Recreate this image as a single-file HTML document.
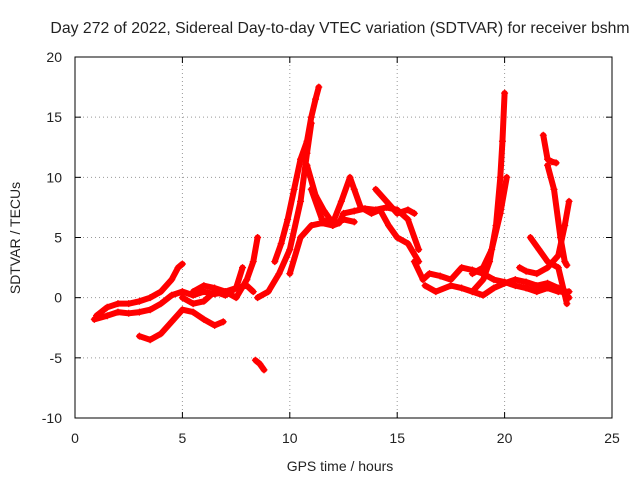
<!DOCTYPE html>
<html><head><meta charset="utf-8"><style>
body{margin:0;background:#fff}
svg text{font-family:"Liberation Sans",sans-serif;font-size:14px;fill:#222}
</style></head><body>
<svg id="c" width="640" height="480">
<text x="340" y="33" text-anchor="middle" style="font-size:15.8px">Day 272 of 2022, Sidereal Day-to-day VTEC variation (SDTVAR) for receiver bshm</text>
<text x="340" y="471" text-anchor="middle">GPS time / hours</text>
<text transform="translate(20,238) rotate(-90)" text-anchor="middle">SDTVAR / TECUs</text>
<g id="grid"></g><g id="ticks"></g><g id="marks"></g>
<rect x="75" y="57" width="537" height="361" fill="none" stroke="#000"/>
</svg>
<script>
const xTicks=[0,5,10,15,20,25];
const yTicks=[-10,-5,0,5,10,15,20];
const track1=[[0.9,-1.8],[1.5,-1.5],[2,-1.2],[2.5,-1.3],[3,-1.2],[3.5,-1.0],[4,-0.5],[4.5,0.2],[5,0.5],[5.5,0.2],[6,0.5],[6.5,0.3],[7,0.5],[7.5,0.8],[8,1.0],[8.3,0.5]];
const track2=[[1,-1.5],[1.5,-0.8],[2,-0.5],[2.5,-0.5],[3,-0.3],[3.5,0],[4,0.5],[4.5,1.5],[4.8,2.5],[5,2.8]];
const track3=[[3,-3.2],[3.5,-3.5],[4,-3.0],[4.5,-2],[5,-1],[5.5,-1.2],[6,-1.8],[6.5,-2.3],[6.9,-2]];
const track4=[[5,0],[5.5,-0.5],[6,-0.3],[6.5,0.5],[7,0.2],[7.5,0.8],[7.8,2.5]];
const track5=[[5.5,0.5],[6,1],[6.5,0.8],[7,0.5],[7.5,0],[8,1.5],[8.3,3],[8.5,5]];
const track6=[[8.4,-5.2],[8.6,-5.5],[8.8,-6]];
const track7=[[8.5,0],[9,0.5],[9.5,2],[10,4],[10.5,8],[10.8,12],[11,14.5]];
const track8=[[9.3,3],[9.6,4.5],[9.9,6.5],[10.2,9],[10.5,11.5],[10.8,13],[11,15],[11.2,16.5],[11.35,17.5]];
const track9=[[10,2],[10.5,5],[11,6],[11.5,6.2],[12,6],[12.3,6.2],[12.5,7],[13,7.2],[13.5,7.4],[14,7.3],[14.5,7.5],[15,7.3],[15.5,6.5],[16,4]];
const track10=[[10.8,11],[11.2,8.5],[11.6,7.2],[12,6.2],[12.4,8],[12.8,10],[13,9],[13.3,7.5],[13.8,7],[14.2,7.3],[14.6,6],[15,5],[15.5,4.5],[16,3]];
const track11=[[11,9],[11.5,6.5],[12,6],[12.5,6.5],[13,6.3]];
const track12=[[14,9],[14.5,8],[15,7],[15.5,7.3],[15.8,7]];
const track13=[[15.8,3],[16.2,1.5],[16.5,2],[17,1.8],[17.5,1.5],[18,2.5],[18.5,2.3],[19,2.0],[19.5,1.5],[20,1.3],[20.5,1],[21,0.8],[21.5,0.5],[22,0.8],[22.5,0.5],[23,0.5]];
const track14=[[16.3,1],[16.8,0.5],[17.5,1],[18,0.8],[18.5,0.5],[19,0.2],[19.5,0.8],[20,1.2],[20.5,1.5],[21,1.3],[21.5,1.0],[22,1.2],[22.5,0.8],[23,0]];
const track15=[[18.5,0.5],[19,1.5],[19.3,3],[19.6,6],[19.8,10],[19.9,13],[20,17]];
const track16=[[18.5,2],[19,2.5],[19.4,4],[19.8,7],[20.1,10]];
const track17=[[21.8,13.5],[22,11.5],[22.2,11.3],[22.4,11.2]];
const track18=[[22.0,11],[22.3,9],[22.6,5],[22.8,3],[22.9,2.7]];
const track19=[[21.2,5],[21.6,4],[22,3],[22.5,2.5],[22.9,-0.5]];
const track20=[[20.7,2.5],[21,2.2],[21.5,2],[22,2.5],[22.5,3.5],[22.8,6],[23,8]];
const tracks=[track1,track2,track3,track4,track5,track6,track7,track8,track9,track10,track11,track12,track13,track14,track15,track16,track17,track18,track19,track20];
const X=v=>75+v*537/25, Y=v=>418-(v+10)*361/30;
const NS="http://www.w3.org/2000/svg";
const g=document.getElementById('grid'),tk=document.getElementById('ticks'),mk=document.getElementById('marks');
function el(t,a,p){const e=document.createElementNS(NS,t);for(const k in a)e.setAttribute(k,a[k]);p.appendChild(e);return e;}
xTicks.forEach(t=>{
 const l=el('line',{x1:X(t),x2:X(t),y1:57,y2:418,stroke:'#999','stroke-dasharray':'1,3'},g);
 
 
 el('line',{x1:X(t),x2:X(t),y1:418,y2:412,stroke:'#000'},tk);
 el('line',{x1:X(t),x2:X(t),y1:57,y2:63,stroke:'#000'},tk);
 const s=el('text',{x:X(t),y:443,'text-anchor':'middle'},tk);s.textContent=t;
 
 
});
yTicks.forEach(t=>{
 const l=el('line',{x1:75,x2:612,y1:Y(t),y2:Y(t),stroke:'#999','stroke-dasharray':'1,3'},g);
 
 
 el('line',{x1:75,x2:81,y1:Y(t),y2:Y(t),stroke:'#000'},tk);
 el('line',{x1:612,x2:606,y1:Y(t),y2:Y(t),stroke:'#000'},tk);
 const s=el('text',{x:62,y:Y(t)+5,'text-anchor':'end'},tk);s.textContent=t;
 
 
});
tracks.forEach(tr=>{
 const p=el('polyline',{points:tr.map(d=>X(d[0])+','+Y(d[1])).join(' '),fill:'none',stroke:'#f00','stroke-width':6,'stroke-linejoin':'round','stroke-linecap':'round'},mk);
 
 
 tr.forEach(d=>{
  const x=X(d[0]),y=Y(d[1]);
  const m=el('path',{d:`M${x-3.5},${y}h7M${x},${y-3.5}v7`,stroke:'#f00','stroke-width':1.2},mk);
  
  
 });
});
</script>
</body></html>
